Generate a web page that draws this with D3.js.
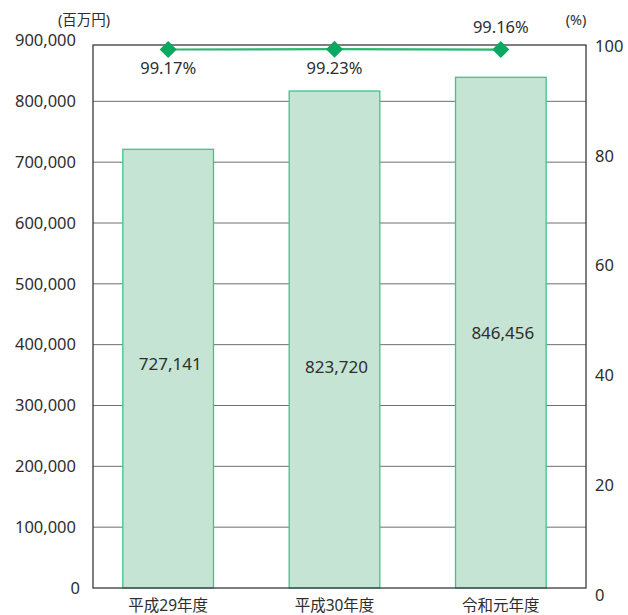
<!DOCTYPE html>
<html>
<head>
<meta charset="utf-8">
<script src="https://cdn.jsdelivr.net/npm/d3@7"></script>
<style>
  html, body { margin: 0; padding: 0; background: #fff; }
  svg text { font-family: "Noto Sans", "Noto Sans CJK JP", sans-serif; fill: #2e2e2e; }
</style>
</head>
<body>
<svg id="chart" width="628" height="615"></svg>
<script>
// Fiscal years, amounts (million yen) and collection rates (%)
const categories = ["平成29年度", "平成30年度", "令和元年度"];
const amounts = [727141, 823720, 846456];
const rates = [99.17, 99.23, 99.16];
const leftTicks = [0, 100000, 200000, 300000, 400000, 500000, 600000, 700000, 800000, 900000];
const rightTicks = [0, 20, 40, 60, 80, 100];
const rateLabelPos = ["below", "below", "above"];

const svg = d3.select("#chart");
const frame = { left: 93, right: 586, top: 45, bottom: 588 };

const x = d3.scaleBand().domain(categories).range([85, 584])
  .paddingInner(0.455).paddingOuter(0.2275);
const y = d3.scaleLinear().domain([0, 900000]).range([frame.bottom, frame.top]);
const yTick = d3.scaleLinear().domain([0, 900000]).range([frame.bottom, 40.5]);
const yRight = d3.scaleLinear().domain([0, 100]).range([frame.bottom, frame.top]);
const yRightLabel = d3.scaleLinear().domain([0, 100]).range([595, 46]);

// Horizontal gridlines
svg.append("g").selectAll("line")
  .data(leftTicks.filter(d => d > 0 && d < 900000))
  .join("line")
  .attr("x1", frame.left).attr("x2", frame.right)
  .attr("y1", d => yTick(d)).attr("y2", d => yTick(d))
  .attr("stroke", "#6e6e6e").attr("stroke-width", 1);

// Bars
svg.append("g").selectAll("rect")
  .data(amounts)
  .join("rect")
  .attr("x", (d, i) => x(categories[i]))
  .attr("width", x.bandwidth())
  .attr("y", d => y(d))
  .attr("height", d => frame.bottom - y(d))
  .attr("fill", "#c6e4d4")
  .attr("stroke", "#3cc48a")
  .attr("stroke-width", 1.3);

// Plot frame
svg.append("rect")
  .attr("x", frame.left).attr("y", frame.top)
  .attr("width", frame.right - frame.left).attr("height", frame.bottom - frame.top)
  .attr("fill", "none").attr("stroke", "#3a3a3a").attr("stroke-width", 1.3);

// Left axis labels
const fmt = d3.format(",");
svg.append("g").selectAll("text")
  .data(leftTicks)
  .join("text")
  .attr("x", d => d === 0 ? 80 : 76)
  .attr("y", d => yTick(d))
  .attr("dy", "0.35em")
  .attr("text-anchor", "end")
  .attr("font-size", 16.5)
  .text(d => fmt(d));

// Right axis labels
svg.append("g").selectAll("text")
  .data(rightTicks)
  .join("text")
  .attr("x", 595)
  .attr("y", d => yRightLabel(d))
  .attr("dy", "0.35em")
  .attr("font-size", 16.5)
  .text(d => d);

// Unit captions
svg.append("text").attr("x", 84).attr("y", 25).attr("text-anchor", "middle")
  .attr("font-size", 14.5).text("(百万円)");
svg.append("text").attr("x", 576).attr("y", 25).attr("text-anchor", "middle")
  .attr("font-size", 14.5).text("(%)");

// Category labels
svg.append("g").selectAll("text")
  .data(categories)
  .join("text")
  .attr("x", d => x(d) + x.bandwidth() / 2)
  .attr("y", 611)
  .attr("text-anchor", "middle")
  .attr("font-size", 15.5)
  .text(d => d);

// Amount labels inside bars
const amountLabelY = [364, 367, 333];
svg.append("g").selectAll("text")
  .data(amounts)
  .join("text")
  .attr("x", (d, i) => x(categories[i]) + x.bandwidth() / 2 + 2)
  .attr("y", (d, i) => amountLabelY[i])
  .attr("dy", "0.35em")
  .attr("text-anchor", "middle")
  .attr("font-size", 17)
  .text(d => fmt(d));

// Collection-rate line with diamond markers
const cx = (i) => x(categories[i]) + x.bandwidth() / 2;
const line = d3.line().x((d, i) => cx(i)).y(d => yRight(d));
svg.append("path")
  .datum(rates)
  .attr("d", line)
  .attr("fill", "none")
  .attr("stroke", "#2bb673")
  .attr("stroke-width", 2.2);

svg.append("g").selectAll("path")
  .data(rates)
  .join("path")
  .attr("transform", (d, i) => `translate(${cx(i)},${yRight(d)})`)
  .attr("d", "M0,-8.5L8.5,0L0,8.5L-8.5,0Z")
  .attr("fill", "#0aa860");

svg.append("g").selectAll("text")
  .data(rates)
  .join("text")
  .attr("x", (d, i) => cx(i))
  .attr("y", (d, i) => rateLabelPos[i] === "below" ? yRight(d) + 19 : yRight(d) - 22)
  .attr("dy", "0.35em")
  .attr("text-anchor", "middle")
  .attr("font-size", 16.5)
  .text(d => d.toFixed(2) + "%");
</script>
</body>
</html>
